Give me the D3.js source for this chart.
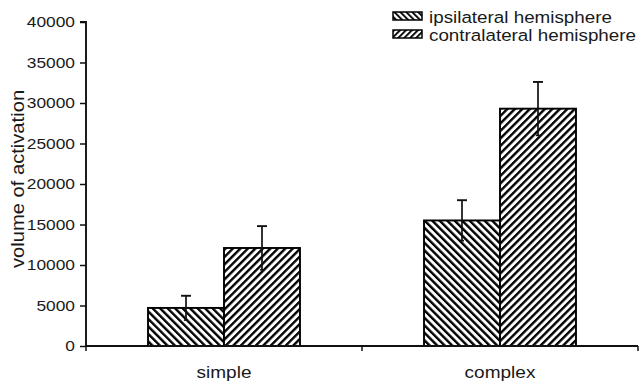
<!DOCTYPE html>
<html>
<head>
<meta charset="utf-8">
<script src="https://cdn.jsdelivr.net/npm/d3@7"></script>
<style>
  body { margin: 0; background: #fff; }
  svg { display: block; }
  text { font-family: "Liberation Sans", Arial, sans-serif; fill: #1a1a1a; }
</style>
</head>
<body>
<div id="chart"></div>
<script>
// data
const categories = ["simple", "complex"];
const seriesNames = ["ipsilateral hemisphere", "contralateral hemisphere"];
const ipsiValues = [4700, 15500];
const ipsiErrors = [1500, 2500];
const contraValues = [12100, 29300];
const contraErrors = [2700, 3300];
const yTicks = [0, 5000, 10000, 15000, 20000, 25000, 30000, 35000, 40000];

const width = 643, height = 386;
const sx = 1.12; // text in the figure is stretched sideways

const svg = d3.select("#chart").append("svg")
  .attr("width", width)
  .attr("height", height);

const defs = svg.append("defs");
function addHatch(id, angle, size, thick) {
  defs.append("pattern")
    .attr("id", id)
    .attr("patternUnits", "userSpaceOnUse")
    .attr("width", size)
    .attr("height", size)
    .attr("patternTransform", `rotate(${angle})`)
    .append("rect")
    .attr("x", 0).attr("y", 0)
    .attr("width", thick).attr("height", size)
    .attr("fill", "#000");
}
addHatch("hatch-ipsi", -45, 5.3, 2.4);
addHatch("hatch-contra", 45, 5.3, 2.4);
addHatch("hatch-ipsi-sm", -45, 4.2, 1.9);
addHatch("hatch-contra-sm", 45, 4.2, 1.9);

const y = d3.scaleLinear().domain([0, 40000]).range([346, 22]);
const x = d3.scaleBand().domain(categories).range([86, 638]).paddingInner(0).paddingOuter(0);
const xs = d3.scaleBand().domain(["ipsi", "contra"]).range([0, x.bandwidth()])
  .paddingInner(0).paddingOuter(0.816);

const rows = categories.map((c, i) => [
  { cat: c, key: "ipsi", v: ipsiValues[i], e: ipsiErrors[i], fill: "url(#hatch-ipsi)" },
  { cat: c, key: "contra", v: contraValues[i], e: contraErrors[i], fill: "url(#hatch-contra)" }
]).flat();

// bars
const bars = svg.append("g").selectAll("g.bar")
  .data(rows)
  .enter().append("g").attr("class", "bar");

bars.append("rect")
  .attr("x", d => x(d.cat) + xs(d.key))
  .attr("y", d => y(d.v))
  .attr("width", xs.bandwidth())
  .attr("height", d => y(0) - y(d.v))
  .attr("fill", "#fff");

bars.append("rect")
  .attr("x", d => x(d.cat) + xs(d.key))
  .attr("y", d => y(d.v))
  .attr("width", xs.bandwidth())
  .attr("height", d => y(0) - y(d.v))
  .attr("fill", d => d.fill)
  .attr("stroke", "#000")
  .attr("stroke-width", 1.9);

// error bars
const cx = d => x(d.cat) + xs(d.key) + xs.bandwidth() / 2;
bars.append("line")
  .attr("x1", cx).attr("x2", cx)
  .attr("y1", d => y(d.v - d.e)).attr("y2", d => y(d.v + d.e))
  .attr("stroke", "#111").attr("stroke-width", 1.7);
bars.append("line")
  .attr("x1", d => cx(d) - 5).attr("x2", d => cx(d) + 5)
  .attr("y1", d => y(d.v + d.e)).attr("y2", d => y(d.v + d.e))
  .attr("stroke", "#111").attr("stroke-width", 1.9);
bars.append("line")
  .attr("x1", d => cx(d) - 2).attr("x2", d => cx(d) + 2)
  .attr("y1", d => y(d.v - d.e)).attr("y2", d => y(d.v - d.e))
  .attr("stroke", "#111").attr("stroke-width", 1.6);

// y axis
const yAxis = svg.append("g")
  .attr("transform", "translate(86,0)")
  .call(d3.axisLeft(y).tickValues(yTicks).tickSize(6).tickPadding(5).tickFormat(d3.format("d")));
yAxis.select(".domain").attr("stroke", "#111").attr("stroke-width", 1.9).attr("d", `M-6,${y(40000)}H0V${y(0)}`);
yAxis.selectAll(".tick line").attr("stroke", "#111").attr("stroke-width", 1.5);
yAxis.selectAll(".tick text")
  .attr("font-family", "Liberation Sans, Arial, sans-serif")
  .attr("font-size", 15.5)
  .attr("fill", "#222")
  .attr("x", -11 / sx)
  .attr("transform", `scale(${sx},1)`);

// x axis
const xAxis = svg.append("g").attr("transform", `translate(0,${y(0)})`);
xAxis.append("line")
  .attr("x1", 86).attr("x2", 638).attr("y1", 0).attr("y2", 0)
  .attr("stroke", "#111").attr("stroke-width", 1.9);
const xEdges = [86].concat(categories.map(c => x(c) + x.bandwidth()));
xAxis.selectAll("line.tk")
  .data(xEdges)
  .enter().append("line").attr("class", "tk")
  .attr("x1", d => d).attr("x2", d => d)
  .attr("y1", 0).attr("y2", 5)
  .attr("stroke", "#111").attr("stroke-width", 1.5);
xAxis.selectAll("text")
  .data(categories)
  .enter().append("text")
  .attr("transform", `scale(${sx},1)`)
  .attr("x", d => (x(d) + x.bandwidth() / 2) / sx)
  .attr("y", 32)
  .attr("text-anchor", "middle")
  .attr("font-size", 17)
  .text(d => d);

// y label
svg.append("text")
  .attr("transform", `translate(24,179) rotate(-90) scale(${sx},1)`)
  .attr("text-anchor", "middle")
  .attr("font-size", 18)
  .text("volume of activation");

// legend
const legend = svg.append("g").attr("transform", "translate(393,12)");
const legendFills = ["url(#hatch-ipsi-sm)", "url(#hatch-contra-sm)"];
seriesNames.forEach((name, i) => {
  const g = legend.append("g").attr("transform", `translate(0,${i * 18})`);
  g.append("rect").attr("width", 29).attr("height", 8).attr("fill", "#fff");
  g.append("rect").attr("width", 29).attr("height", 8)
    .attr("fill", legendFills[i]).attr("stroke", "#000").attr("stroke-width", 1.5);
  g.append("text")
    .attr("transform", `scale(${sx},1)`)
    .attr("x", 36 / sx)
    .attr("y", 10.5)
    .attr("font-size", 16.8)
    .text(name);
});
</script>
</body>
</html>
